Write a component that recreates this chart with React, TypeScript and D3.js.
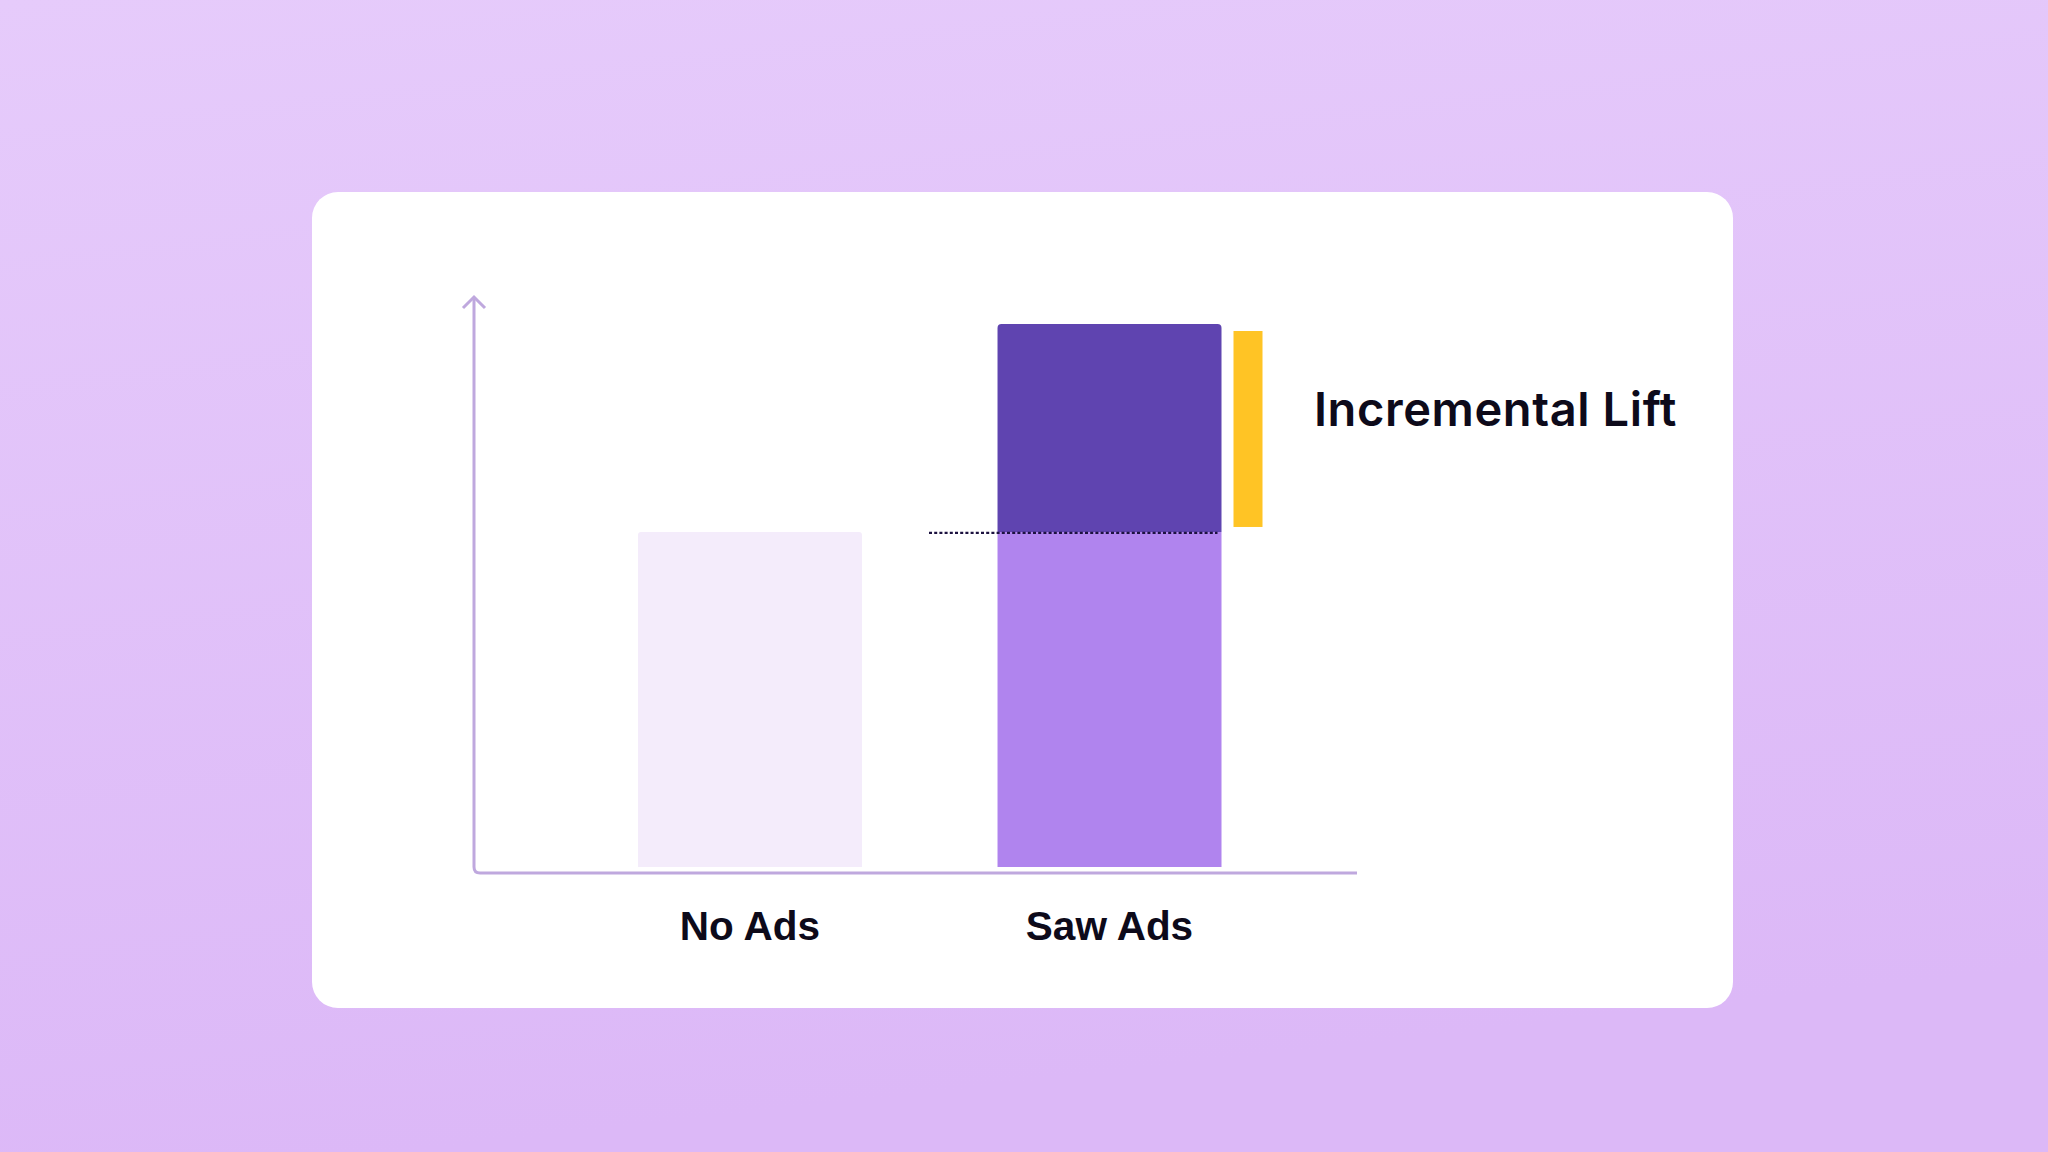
import React from "react";
import * as d3 from "d3";

const categories = ["No Ads", "Saw Ads"];
const baselineValues = [61.7, 61.7];
const totalValues = [61.7, 100];
const liftLabel = "Incremental Lift";

const W = 2048;
const H = 1152;

export default function App() {
  const x = d3
    .scaleBand<string>()
    .domain(categories)
    .range([638, 1221.5])
    .paddingInner(0.377)
    .paddingOuter(0);
  const y = d3.scaleLinear().domain([0, 100]).range([867, 324]);
  const bw = x.bandwidth();

  const axisX = 474;
  const axisY = 873;
  const axisEnd = 1357;
  const axisTop = 297;
  const axisPath = `M${axisX},${axisTop} L${axisX},${axisY - 6} Q${axisX},${axisY} ${axisX + 6},${axisY} L${axisEnd},${axisY}`;

  const topRound = (x0: number, y0: number, w: number, h: number, r: number) =>
    `M${x0},${y0 + h} L${x0},${y0 + r} Q${x0},${y0} ${x0 + r},${y0} L${x0 + w - r},${y0} Q${x0 + w},${y0} ${x0 + w},${y0 + r} L${x0 + w},${y0 + h} Z`;

  const saw = categories[1];
  const sx = x(saw)!;
  const liftTop = y(totalValues[1]);
  const liftBottom = y(baselineValues[1]);

  return (
    <svg width={W} height={H} style={{ position: "absolute", left: 0, top: 0 }}>
      <defs>
        <linearGradient id="bg" x1="0" y1="0" x2="0.2" y2="1">
          <stop offset="0" stopColor="#e6cbfb" />
          <stop offset="1" stopColor="#dcb8f7" />
        </linearGradient>
      </defs>
      <rect x={0} y={0} width={W} height={H} fill="url(#bg)" />
      <rect x={312} y={192} width={1421} height={816} rx={26} fill="#ffffff" />

      {/* No Ads bar */}
      <path
        d={topRound(x(categories[0])!, y(totalValues[0]), bw, y(0) - y(totalValues[0]), 3)}
        fill="#f4ecfb"
      />
      {/* Saw Ads base */}
      <rect x={sx} y={y(baselineValues[1])} width={bw} height={y(0) - y(baselineValues[1])} fill="#b084ee" />
      {/* Saw Ads lift */}
      <path d={topRound(sx, liftTop, bw, liftBottom - liftTop, 4)} fill="#5f44b0" />

      {/* dotted baseline */}
      <line
        x1={929}
        x2={sx + bw - 4}
        y1={y(baselineValues[0]) + 1}
        y2={y(baselineValues[0]) + 1}
        stroke="#1c1240"
        strokeWidth={2.2}
        strokeDasharray="3 2.2"
      />

      {/* yellow lift indicator */}
      <rect x={sx + bw + 12} y={liftTop + 7} width={29} height={liftBottom - liftTop - 12} fill="#ffc425" />

      <text
        x={1314}
        y={426}
        fontFamily="Inter"
        fontWeight={600}
        fontSize={47}
        letterSpacing={0.6}
        fill="#0d0a1a"
      >
        {liftLabel}
      </text>

      {/* axes */}
      <path d={axisPath} fill="none" stroke="#bfa8de" strokeWidth={3} />
      <path
        d={`M${axisX - 11},${axisTop + 11} L${axisX},${axisTop} L${axisX + 11},${axisTop + 11}`}
        fill="none"
        stroke="#bfa8de"
        strokeWidth={3}
      />

      {categories.map((c) => (
        <text
          key={c}
          x={x(c)! + bw / 2}
          y={939.5}
          textAnchor="middle"
          fontFamily="Liberation Sans"
          fontWeight={700}
          fontSize={40.5}
          fill="#0d0a1a"
        >
          {c}
        </text>
      ))}
    </svg>
  );
}
